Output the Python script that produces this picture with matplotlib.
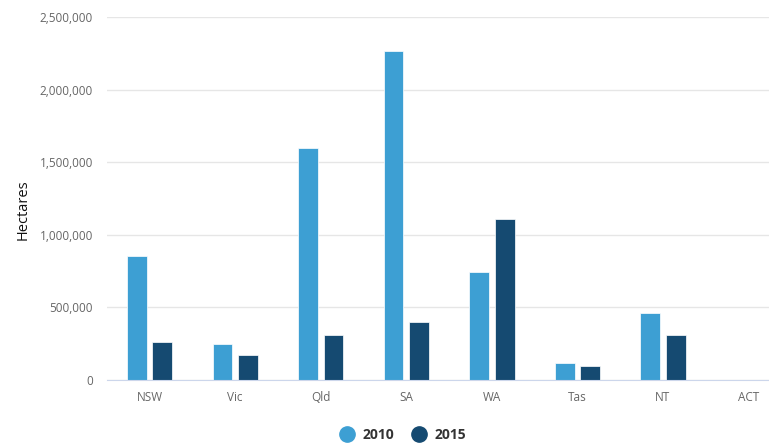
import numpy as np
import matplotlib.pyplot as plt

plt.rcParams['font.family'] = ['Open Sans', 'DejaVu Sans']

# --- data ---
states = ['NSW', 'Vic', 'Qld', 'SA', 'WA', 'Tas', 'NT', 'ACT']
ha_2010 = [854000, 248000, 1598000, 2266000, 744000, 117000, 461000, 0]
ha_2015 = [262000, 172000, 310000, 400000, 1109000, 96000, 310000, 0]
yticks = [0, 500000, 1000000, 1500000, 2000000, 2500000]

c2010 = '#3d9fd3'
c2015 = '#154a71'

fig = plt.figure(figsize=(7.69, 4.45), dpi=100)
ax = fig.add_axes([0.139, 0.146, 0.861, 0.816])

x = np.arange(len(states))
w = 0.232
ax.bar(x - 0.149, ha_2010, w, color=c2010, edgecolor='white', linewidth=0.5, label='2010', zorder=3)
ax.bar(x + 0.149, ha_2015, w, color=c2015, edgecolor='white', linewidth=0.5, label='2015', zorder=3)

ax.set_xlim(-0.5, 7.24)
ax.set_ylim(0, 2500000)
ax.set_xticks(x)
ax.set_xticklabels(states)
ax.set_yticks(yticks)
ax.set_yticklabels([f'{v:,}' for v in yticks])
ax.tick_params(axis='both', length=0, labelsize=8.5, labelcolor='#666666')
ax.tick_params(axis='x', pad=8)
ax.tick_params(axis='y', pad=10)

ax.grid(axis='y', color='#e6e6e6', linewidth=1, zorder=0)
for s in ['top', 'right', 'left']:
    ax.spines[s].set_visible(False)
ax.spines['bottom'].set_color('#ccd6eb')
ax.spines['bottom'].set_zorder(4)

ax.set_ylabel('Hectares', fontsize=10.5, color='#111111')
ax.yaxis.set_label_coords(-0.115, 0.47)

h1 = plt.Line2D([], [], marker='o', linestyle='', color=c2010, markersize=11)
h2 = plt.Line2D([], [], marker='o', linestyle='', color=c2015, markersize=11)
fig.legend([h1, h2], ['2010', '2015'], loc='center', bbox_to_anchor=(0.52, 0.022),
           ncol=2, frameon=False, handletextpad=0.1, columnspacing=0.8,
           prop={'size': 10, 'weight': 'bold'}, labelcolor='#333333')

fig.savefig('out.png', dpi=100, facecolor='white')
